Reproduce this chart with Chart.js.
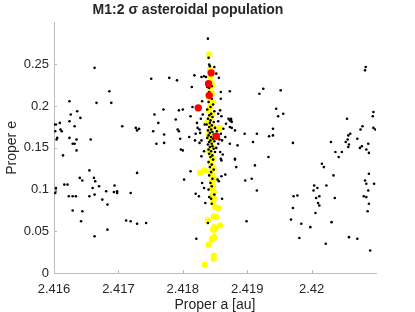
<!DOCTYPE html>
<html>
<head>
<meta charset="utf-8">
<script src="https://cdn.jsdelivr.net/npm/chart.js@4"></script>
<style>
  html, body { margin: 0; padding: 0; background: #fff; }
  #wrap { width: 415px; height: 312px; }
</style>
</head>
<body>
<div id="wrap"><canvas id="scatterChart" width="415" height="312"></canvas></div>
<script>
// tick values
const xTicks = [2.416, 2.417, 2.418, 2.419, 2.42];
const yTicks = [0, 0.05, 0.1, 0.15, 0.2, 0.25];

// [proper a, proper e] for the background population (black dots)
const blackPoints = [
  [2.41600,0.178],[2.41603,0.178],[2.41602,0.170],[2.41610,0.172],[2.41612,0.170],[2.41609,0.180],
  [2.41605,0.162],[2.41604,0.160],[2.41614,0.141],[2.41603,0.102],[2.41603,0.099],[2.41602,0.096],
  [2.41616,0.106],[2.41621,0.106],[2.41623,0.092],[2.41624,0.206],[2.41626,0.190],[2.41624,0.182],
  [2.41636,0.194],[2.41632,0.176],[2.41641,0.186],[2.41624,0.162],[2.41635,0.160],[2.41629,0.155],
  [2.41632,0.155],[2.41635,0.147],[2.41629,0.092],[2.41634,0.092],[2.41629,0.075],[2.41644,0.074],
  [2.41642,0.062],[2.41640,0.114],[2.41644,0.111],[2.41655,0.123],[2.41657,0.160],[2.41655,0.092],
  [2.41662,0.114],[2.41664,0.110],[2.41660,0.102],[2.41663,0.094],[2.41663,0.246],[2.41666,0.204],
  [2.41663,0.044],[2.41670,0.104],[2.41675,0.088],[2.41681,0.098],[2.41683,0.082],[2.41683,0.052],
  [2.41686,0.218],[2.41689,0.204],[2.41694,0.105],[2.41693,0.097],[2.41698,0.098],[2.41698,0.096],
  [2.41706,0.176],[2.41712,0.063],[2.41719,0.062],[2.41719,0.096],[2.41727,0.174],[2.41732,0.173],
  [2.41729,0.171],[2.41729,0.120],[2.41729,0.059],[2.41743,0.060],[2.41751,0.233],[2.41779,0.234],
  [2.41791,0.231],[2.41770,0.196],[2.41756,0.190],[2.41794,0.195],[2.41800,0.196],[2.41762,0.180],
  [2.41789,0.184],[2.41754,0.170],[2.41792,0.172],[2.41794,0.170],[2.41771,0.166],[2.41796,0.161],
  [2.41759,0.155],[2.41771,0.156],[2.41797,0.148],[2.41800,0.147],[2.41802,0.112],[2.41812,0.122],
  [2.41821,0.041],
  // resonance centre
  [2.41839,0.281],[2.41840,0.258],[2.41841,0.250],[2.41842,0.248],[2.41849,0.247],[2.41852,0.239],
  [2.41818,0.237],[2.41829,0.235],[2.41833,0.236],[2.41836,0.235],[2.41856,0.234],[2.41814,0.223],
  [2.41838,0.223],[2.41841,0.222],[2.41845,0.224],[2.41859,0.217],[2.41873,0.218],[2.41841,0.217],
  [2.41830,0.206],[2.41815,0.199],[2.41812,0.188],[2.41859,0.209],[2.41858,0.195],[2.41855,0.191],
  [2.41860,0.188],[2.41871,0.185],[2.41873,0.183],[2.41867,0.179],[2.41863,0.173],[2.41859,0.167],
  [2.41873,0.175],[2.41822,0.180],[2.41823,0.174],[2.41810,0.163],[2.41820,0.167],[2.41827,0.168],
  [2.41819,0.159],[2.41826,0.156],[2.41829,0.159],[2.41866,0.163],[2.41873,0.155],[2.41861,0.159],
  [2.41855,0.155],[2.41859,0.137],[2.41860,0.135],[2.41881,0.137],[2.41866,0.118],[2.41860,0.116],
  [2.41854,0.112],[2.41856,0.110],[2.41830,0.108],[2.41833,0.102],[2.41820,0.095],[2.41825,0.092],
  [2.41841,0.091],[2.41844,0.089],[2.41849,0.094],[2.41861,0.089],[2.41835,0.084],[2.41845,0.083],
  [2.41839,0.060],
  [2.41842,0.212],[2.41845,0.209],[2.41840,0.205],[2.41847,0.202],[2.41843,0.199],[2.41838,0.196],
  [2.41849,0.194],[2.41844,0.191],[2.41841,0.189],[2.41846,0.187],[2.41839,0.185],[2.41843,0.183],
  [2.41848,0.181],[2.41842,0.180],[2.41837,0.178],[2.41845,0.177],[2.41841,0.175],[2.41850,0.174],
  [2.41844,0.172],[2.41839,0.171],[2.41846,0.169],[2.41842,0.168],[2.41848,0.166],[2.41840,0.165],
  [2.41844,0.163],[2.41838,0.162],[2.41847,0.161],[2.41843,0.159],[2.41849,0.158],[2.41841,0.157],
  [2.41845,0.155],[2.41839,0.154],[2.41846,0.152],[2.41842,0.151],[2.41848,0.149],[2.41840,0.148],
  [2.41844,0.146],[2.41850,0.145],[2.41841,0.143],[2.41846,0.141],[2.41843,0.139],[2.41847,0.136],
  [2.41840,0.133],[2.41845,0.130],[2.41842,0.127],[2.41848,0.124],[2.41844,0.121],[2.41841,0.117],
  [2.41846,0.113],[2.41843,0.108],[2.41845,0.104],[2.41840,0.100],
  [2.41831,0.190],[2.41828,0.185],[2.41834,0.178],[2.41826,0.172],[2.41855,0.182],[2.41853,0.170],
  [2.41857,0.160],[2.41852,0.150],[2.41858,0.145],[2.41833,0.146],[2.41829,0.140],[2.41862,0.142],
  // right of the resonance
  [2.41875,0.185],[2.41875,0.183],[2.41876,0.181],[2.41876,0.174],[2.41881,0.171],[2.41896,0.167],
  [2.41915,0.167],[2.41909,0.157],[2.41885,0.153],[2.41925,0.221],[2.41919,0.215],[2.41952,0.219],
  [2.41945,0.197],[2.41948,0.188],[2.41956,0.191],[2.41940,0.173],[2.41934,0.164],[2.41940,0.165],
  [2.41971,0.156],[2.41933,0.139],[2.41881,0.136],[2.41883,0.127],[2.41912,0.129],[2.41897,0.111],
  [2.41907,0.113],[2.41915,0.099],[2.41899,0.062],[2.42084,0.247],[2.42083,0.243],[2.42055,0.185],
  [2.42096,0.193],[2.42095,0.188],[2.42079,0.176],[2.42076,0.172],[2.42096,0.174],[2.42099,0.172],
  [2.42057,0.165],[2.42060,0.167],[2.42056,0.160],[2.42058,0.154],[2.42057,0.151],[2.42053,0.157],
  [2.42071,0.161],[2.42030,0.157],[2.42088,0.155],[2.42078,0.152],[2.42075,0.150],[2.42085,0.148],
  [2.42089,0.144],[2.42037,0.145],[2.42047,0.145],[2.42042,0.139],[2.42016,0.131],[2.42019,0.127],
  [2.42034,0.117],[2.42004,0.105],[2.42009,0.102],[2.42003,0.099],[2.42023,0.105],[2.41972,0.092],
  [2.41978,0.093],[2.42007,0.090],[2.42012,0.092],[2.42010,0.084],[2.42012,0.081],[2.42006,0.072],
  [2.42036,0.090],[2.41971,0.078],[2.41968,0.064],[2.41984,0.059],[2.41998,0.055],[2.41981,0.042],
  [2.42031,0.061],[2.42022,0.035],[2.42058,0.043],[2.42071,0.041],[2.42089,0.119],[2.42083,0.111],
  [2.42085,0.107],[2.42097,0.107],[2.42088,0.099],[2.42081,0.092],[2.42085,0.091],[2.42089,0.083],
  [2.42087,0.074],[2.42091,0.027]
];

// resonant population (yellow)
const yellowPoints = [
  [2.41841,0.262],[2.41842,0.244],[2.41843,0.236],[2.41844,0.229],[2.41846,0.225],[2.41842,0.220],
  [2.41845,0.215],[2.41841,0.210],[2.41846,0.205],[2.41843,0.200],[2.41840,0.195],[2.41845,0.190],
  [2.41842,0.185],[2.41838,0.180],[2.41846,0.176],[2.41843,0.171],[2.41840,0.166],[2.41844,0.161],
  [2.41842,0.156],[2.41846,0.151],[2.41841,0.146],[2.41844,0.141],[2.41847,0.137],[2.41843,0.133],
  [2.41845,0.129],[2.41848,0.125],[2.41844,0.121],[2.41846,0.117],[2.41849,0.113],[2.41845,0.109],
  [2.41847,0.105],[2.41845,0.101],[2.41848,0.097],[2.41846,0.093],[2.41849,0.089],[2.41847,0.085],
  [2.41850,0.079],[2.41855,0.078],[2.41857,0.174],[2.41827,0.120],[2.41834,0.123],
  [2.41848,0.068],[2.41852,0.067],[2.41839,0.063],[2.41858,0.057],[2.41849,0.055],[2.41847,0.052],
  [2.41851,0.053],[2.41849,0.043],[2.41846,0.040],[2.41845,0.041],[2.41840,0.034],[2.41848,0.021],
  [2.41848,0.017],[2.41834,0.010]
];

// highlighted objects (red)
const redPoints = [
  [2.41844,0.240],[2.41840,0.227],[2.41841,0.213],[2.41824,0.198],[2.41852,0.164]
];

const toXY = pts => pts.map(p => ({x: p[0], y: p[1]}));
const textColor = '#262626';
const axisColor = '#bdbdbd';

// Octave-style inward tick marks
const inwardTicks = {
  id: 'inwardTicks',
  afterDatasetsDraw(chart) {
    const ctx = chart.ctx;
    const area = chart.chartArea;
    const xs = chart.scales.x, ys = chart.scales.y;
    ctx.save();
    ctx.strokeStyle = axisColor;
    ctx.lineWidth = 1;
    ctx.beginPath();
    xTicks.forEach(v => {
      const px = Math.round(xs.getPixelForValue(v)) + 0.5;
      ctx.moveTo(px, area.bottom);
      ctx.lineTo(px, area.bottom - 3);
    });
    yTicks.forEach(v => {
      const py = Math.round(ys.getPixelForValue(v)) + 0.5;
      ctx.moveTo(area.left, py);
      ctx.lineTo(area.left + 3, py);
    });
    ctx.stroke();
    ctx.restore();
  }
};

const ctx = document.getElementById('scatterChart').getContext('2d');
const scatterChart = new Chart(ctx, {
  type: 'scatter',
  data: {
    datasets: [
      {
        label: 'red',
        data: toXY(redPoints),
        backgroundColor: '#ff0000',
        pointRadius: 3.7,
        borderWidth: 0,
        order: 0
      },
      {
        label: 'black',
        data: toXY(blackPoints),
        backgroundColor: '#000000',
        pointRadius: 1.3,
        borderWidth: 0,
        order: 1
      },
      {
        label: 'yellow',
        data: toXY(yellowPoints),
        backgroundColor: '#ffff00',
        pointRadius: 3.1,
        borderWidth: 0,
        order: 2
      }
    ]
  },
  options: {
    responsive: false,
    animation: false,
    events: [],
    layout: { padding: { left: 0, right: 39, top: 0, bottom: 0 } },
    plugins: {
      legend: { display: false },
      tooltip: { enabled: false },
      title: {
        display: true,
        text: 'M1:2 σ asteroidal population',
        color: textColor,
        font: { family: 'Liberation Sans', size: 14, weight: 'bold', lineHeight: 1.2 },
        padding: { top: 2, bottom: 4 }
      }
    },
    scales: {
      x: {
        type: 'linear',
        min: 2.416,
        max: 2.421,
        afterBuildTicks: s => { s.ticks = xTicks.map(v => ({ value: v })); },
        afterFit: s => { s.height = 39; },
        grid: { display: false, drawTicks: false },
        border: { display: true, color: axisColor, width: 1 },
        ticks: {
          color: textColor,
          padding: 9,
          maxRotation: 0,
          font: { family: 'Liberation Sans', size: 13 },
          callback: v => String(v)
        },
        title: {
          display: true,
          text: 'Proper a [au]',
          color: textColor,
          font: { family: 'Liberation Sans', size: 14, lineHeight: 1 },
          padding: { top: 0, bottom: 0 }
        }
      },
      y: {
        type: 'linear',
        min: 0,
        max: 0.3,
        afterBuildTicks: s => { s.ticks = yTicks.map(v => ({ value: v })); },
        afterFit: s => { s.width = 54; },
        grid: { display: false, drawTicks: false },
        border: { display: true, color: axisColor, width: 1 },
        ticks: {
          color: textColor,
          padding: 5,
          font: { family: 'Liberation Sans', size: 13 },
          callback: v => String(v)
        },
        title: {
          display: true,
          text: 'Proper e',
          color: textColor,
          font: { family: 'Liberation Sans', size: 14, lineHeight: 1 },
          padding: { top: 5, bottom: 0 }
        }
      }
    }
  },
  plugins: [inwardTicks]
});
</script>
</body>
</html>
